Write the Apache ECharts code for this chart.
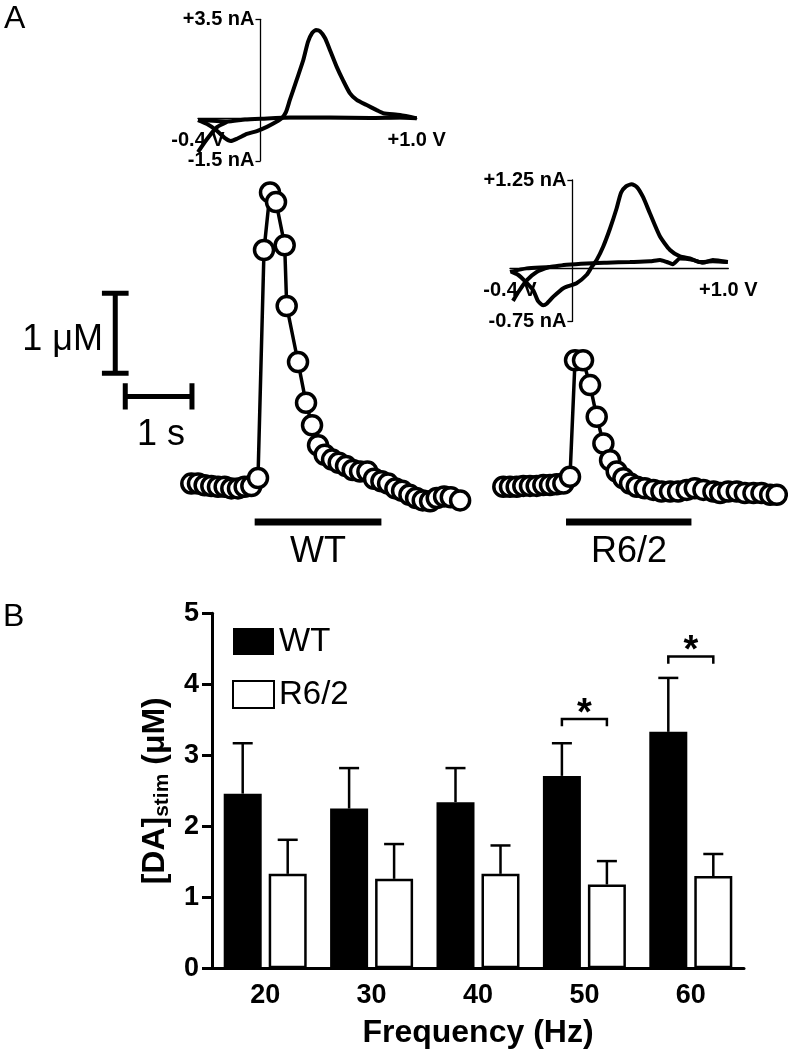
<!DOCTYPE html>
<html><head><meta charset="utf-8">
<script src="https://cdn.jsdelivr.net/npm/echarts/dist/echarts.min.js"></script>
<style>html,body{margin:0;padding:0;background:#fff}#c{width:788px;height:1050px}</style>
</head><body><div id="c"></div><script>
// ================= DATA =================
// Panel A: representative [DA] traces (time in s, concentration in µM)
const wtTime = [-1.0,-0.9,-0.8,-0.7,-0.6,-0.5,-0.4,-0.3,-0.2,-0.1,0,0.09,0.18,0.27,0.40,0.43,0.60,0.72,0.81,0.90,1.00,1.11,1.21,1.32,1.42,1.53,1.64,1.74,1.85,1.95,2.06,2.16,2.27,2.37,2.47,2.58,2.68,2.79,2.89,3.03];
const wtConc = [0.03,0.03,0.01,0.0,-0.01,-0.01,-0.03,-0.03,-0.01,0.0,0.10,2.95,3.67,3.55,3.01,2.25,1.55,1.04,0.76,0.51,0.39,0.33,0.29,0.25,0.20,0.18,0.18,0.09,0.06,0.03,-0.03,-0.06,-0.11,-0.15,-0.18,-0.19,-0.15,-0.13,-0.14,-0.18];
const r62Time = [-1.0,-0.9,-0.8,-0.7,-0.6,-0.5,-0.4,-0.3,-0.2,-0.1,0,0.075,0.195,0.30,0.40,0.50,0.60,0.70,0.80,0.90,1.00,1.12,1.25,1.37,1.50,1.62,1.75,1.87,2.00,2.15,2.25,2.37,2.50,2.62,2.75,2.87,3.00,3.10];
const r62Conc = [0,0,0,0.01,0.01,0.01,0.02,0.02,0.03,0.04,0.125,1.58,1.58,1.27,0.875,0.54,0.33,0.19,0.105,0.04,0.0,-0.02,-0.04,-0.06,-0.06,-0.06,-0.04,-0.02,-0.04,-0.06,-0.08,-0.06,-0.06,-0.08,-0.08,-0.08,-0.10,-0.10];
const stimWT = [-0.05, 1.85];       // stimulation period (s)
const stimR62 = [-0.06, 1.82];
const traceLabels = ['WT', 'R6/2'];
const scaleConc = 1;   // µM
const scaleTime = 1;   // s
const scaleLabels = ['1 \u03bcM', '1 s'];

// Cyclic voltammograms (potential V, current nA)
const wtCvFlat = [[-0.4,-0.06],[-0.214,-0.11],[-0.099,-0.04],[0.01,-0.01],[0.189,0.03],[0.445,0.03],[0.701,0.01],[0.893,0.03],[1.0,0]];
const wtCvLoop = [[1.0,0],[0.893,0.12],[0.786,0.18],[0.744,0.29],[0.68,0.47],[0.616,0.65],[0.573,0.88],[0.528,1.35],[0.488,1.82],[0.445,2.41],[0.413,2.84],[0.381,3.08],[0.355,3.12],[0.33,3.01],[0.304,2.7],[0.274,2.06],[0.231,1.35],[0.188,0.65],[0.163,0.22],[0.137,0.01],[0.099,-0.13],[0.041,-0.3],[-0.023,-0.45],[-0.087,-0.55],[-0.15,-0.72],[-0.19,-0.8],[-0.227,-0.7],[-0.285,-0.41],[-0.342,-0.2],[-0.4,-0.06]];
const wtCvTail = [[-0.4,-1.19],[-0.342,-0.73],[-0.278,-0.31],[-0.214,-0.13]];
const r62CvFlat = [[-0.4,-0.05],[-0.293,0.0],[-0.144,0.02],[-0.037,0.05],[0.092,0.07],[0.22,0.08],[0.369,0.09],[0.497,0.1],[0.562,0.12],[0.606,0.09],[0.644,0.06],[0.69,0.14],[0.773,0.12],[0.837,0.08],[0.901,0.12],[0.997,0.09]];
const r62CvLoop = [[0.997,0.09],[0.901,0.1],[0.818,0.09],[0.754,0.14],[0.69,0.17],[0.626,0.26],[0.562,0.45],[0.497,0.78],[0.453,1.01],[0.414,1.15],[0.38,1.19],[0.344,1.16],[0.312,1.07],[0.284,0.85],[0.241,0.56],[0.198,0.31],[0.156,0.12],[0.124,0.02],[0.092,-0.09],[0.027,-0.21],[-0.058,-0.28],[-0.122,-0.4],[-0.165,-0.5],[-0.188,-0.52],[-0.221,-0.46],[-0.251,-0.31],[-0.304,-0.18],[-0.349,-0.09],[-0.389,-0.05]];
const r62CvTail = [[-0.381,-0.46],[-0.342,-0.32],[-0.293,-0.17],[-0.229,-0.05],[-0.144,0.02]];
const wtCvYLabels = ['-1.5 nA', '+3.5 nA'];
const r62CvYLabels = ['-0.75 nA', '+1.25 nA'];
const cvXLabels = ['-0.4 V', '+1.0 V'];

// Panel B: [DA]stim by frequency
const frequencies = ['20', '30', '40', '50', '60'];
const wtMean  = [2.46, 2.25, 2.34, 2.71, 3.33];
const wtSem   = [0.71, 0.57, 0.48, 0.46, 0.76];
const r62Mean = [1.33, 1.26, 1.33, 1.18, 1.30];
const r62Sem  = [0.48, 0.49, 0.40, 0.33, 0.31];
const sigCats = [3, 4];
const sigBracketY = [3.51, 4.39];
const seriesNames = ['WT', 'R6/2'];
const panelLabels = ['A', 'B'];

// ================= CHART =================
const FONT = '"Liberation Sans", Arial, Helvetica, sans-serif';
const chart = echarts.init(document.getElementById('c'), null, {renderer: 'canvas'});

const BAR_W = 38, BAR_GAP_PX = 7;
const OFF = (BAR_W + BAR_GAP_PX) / 2;

// CV inset geometry
const cvGrids = [
  {left: 198, top: 19.3, width: 218.7, height: 141.5, xMin: -0.4, xMax: 1.0, yMin: -1.5, yMax: 3.5},
  {left: 510, top: 180, width: 218.3, height: 141.4, xMin: -0.4, xMax: 1.0, yMin: -0.75, yMax: 1.25}
];
function zeroOffX(g) { return -(0 - g.xMin) / (g.xMax - g.xMin) * g.width; }   // move y axis to V=0
function zeroOffY(g) { return -(0 - g.yMin) / (g.yMax - g.yMin) * g.height; }  // move x axis to I=0

function lineSeries(ax, data, width, extra) {
  return Object.assign({
    type: 'line', xAxisIndex: ax, yAxisIndex: ax, data: data,
    symbol: 'none', clip: false, silent: true, animation: false,
    lineStyle: {color: '#000', width: width}
  }, extra || {});
}
function zip(a, b) { return a.map((v, i) => [v, b[i]]); }

function cvXAxis(i) {
  const g = cvGrids[i];
  return {
    type: 'value', gridIndex: i, min: g.xMin, max: g.xMax, interval: g.xMax - g.xMin,
    position: 'bottom', offset: zeroOffY(g),
    axisLine: {onZero: false, lineStyle: {color: '#000', width: 1.3}},
    axisTick: {show: false}, splitLine: {show: false},
    axisLabel: {showMinLabel: true, showMaxLabel: true, margin: 12,
      color: '#000', fontFamily: FONT, fontSize: 20, fontWeight: 'bold',
      formatter: v => (v < 0 ? cvXLabels[0] : cvXLabels[1])}
  };
}
function cvYAxis(i, labels) {
  const g = cvGrids[i];
  return {
    type: 'value', gridIndex: i, min: g.yMin, max: g.yMax, interval: g.yMax - g.yMin,
    position: 'left', offset: zeroOffX(g),
    axisLine: {onZero: false, lineStyle: {color: '#000', width: 1.3}},
    axisTick: {show: true, length: 5, lineStyle: {color: '#000', width: 1.3}},
    splitLine: {show: false},
    axisLabel: {showMinLabel: true, showMaxLabel: true, margin: 6,
      color: '#000', fontFamily: FONT, fontSize: 20, fontWeight: 'bold',
      formatter: v => (v > 0 ? labels[1] : labels[0])}
  };
}
function hiddenAxis(g, min, max) {
  return {type: 'value', gridIndex: g, min: min, max: max, show: false};
}

// scale bars in WT-trace coordinates
const sbX = -2.14, sbY0 = 1.41, hbY = 1.12, hbX0 = -1.99;
const capHalfT = 0.2, capHalfC = 0.165;

const traceStyle = {
  symbol: 'circle', symbolSize: 19, showAllSymbol: true,
  itemStyle: {color: '#fff', borderColor: '#000', borderWidth: 3.5},
  lineStyle: {color: '#000', width: 3.5}
};

function errRender(offset) {
  return function (params, api) {
    const i = api.value(0), m = api.value(1), e = api.value(2);
    const p0 = api.coord([i, m]), p1 = api.coord([i, m + e]);
    const x = p0[0] + offset;
    return {type: 'group', children: [
      {type: 'line', shape: {x1: x, y1: p0[1], x2: x, y2: p1[1]}, style: {stroke: '#000', lineWidth: 2.5}},
      {type: 'line', shape: {x1: x - 10, y1: p1[1], x2: x + 10, y2: p1[1]}, style: {stroke: '#000', lineWidth: 2.5}}
    ]};
  };
}
function sigRender(params, api) {
  const i = api.value(0), y = api.value(1);
  const p = api.coord([i, y]), q = api.coord([i, y - 0.1]);
  const xl = p[0] - OFF, xr = p[0] + OFF;
  return {type: 'group', children: [
    {type: 'polyline', shape: {points: [[xl, q[1]], [xl, p[1]], [xr, p[1]], [xr, q[1]]]},
     style: {stroke: '#000', lineWidth: 2.5, fill: null}},
    {type: 'text', x: p[0], y: p[1] + 14,
     style: {text: '*', font: 'bold 38px ' + FONT, fill: '#000', align: 'center', verticalAlign: 'bottom'}}
  ]};
}

const option = {
  animation: false,
  backgroundColor: '#fff',
  grid: [
    {left: cvGrids[0].left, top: cvGrids[0].top, width: cvGrids[0].width, height: cvGrids[0].height, outerBoundsMode: 'none'},
    {left: cvGrids[1].left, top: cvGrids[1].top, width: cvGrids[1].width, height: cvGrids[1].height, outerBoundsMode: 'none'},
    {left: 91.25, top: 174, width: 380.2, height: 360, outerBoundsMode: 'none'},
    {left: 483.3, top: 326.7, width: 300.2, height: 208, outerBoundsMode: 'none'},
    {left: 212, top: 613.3, width: 532, height: 355, outerBoundsMode: 'none'}
  ],
  xAxis: [
    cvXAxis(0), cvXAxis(1),
    hiddenAxis(2, -2.5, 3.2), hiddenAxis(3, -1.3, 3.2),
    {type: 'category', gridIndex: 4, data: frequencies,
     axisLine: {lineStyle: {color: '#000', width: 3}}, axisTick: {show: false},
     axisLabel: {color: '#000', fontFamily: FONT, fontSize: 27, fontWeight: 'bold', margin: 14},
     name: 'Frequency (Hz)', nameLocation: 'middle', nameGap: 49,
     nameTextStyle: {color: '#000', fontFamily: FONT, fontSize: 32, fontWeight: 'bold'}}
  ],
  yAxis: [
    cvYAxis(0, wtCvYLabels), cvYAxis(1, r62CvYLabels),
    hiddenAxis(2, -0.6, 3.9), hiddenAxis(3, -0.6, 2.0),
    {type: 'value', gridIndex: 4, min: 0, max: 5, interval: 1,
     axisLine: {show: true, lineStyle: {color: '#000', width: 3}},
     axisTick: {show: true, length: 10, lineStyle: {color: '#000', width: 3}},
     splitLine: {show: false},
     axisLabel: {color: '#000', fontFamily: FONT, fontSize: 27, fontWeight: 'bold', margin: 13},
     name: '{m|[DA]}{s|stim}{m| (\u03bcM)}', nameLocation: 'middle', nameRotate: 90, nameGap: 38,
     nameTextStyle: {rich: {
       m: {fontFamily: FONT, fontSize: 32, fontWeight: 'bold', color: '#000', lineHeight: 36},
       s: {fontFamily: FONT, fontSize: 21, fontWeight: 'bold', color: '#000', lineHeight: 20, verticalAlign: 'bottom'}
     }}}
  ],
  legend: {
    data: seriesNames, orient: 'vertical', left: 232, top: 625, padding: 0,
    itemWidth: 41, itemHeight: 27, itemGap: 20, icon: 'rect',
    textStyle: {color: '#000', fontFamily: FONT, fontSize: 33, lineHeight: 28},
    selectedMode: false
  },
  graphic: [
    {type: 'text', x: 4, y: 3, style: {text: panelLabels[0], font: '32px ' + FONT, fill: '#000'}},
    {type: 'text', x: 3, y: 601, style: {text: panelLabels[1], font: '32px ' + FONT, fill: '#000'}},
    {type: 'text', x: 103, y: 340, style: {text: scaleLabels[0], font: '36px ' + FONT, fill: '#000', textAlign: 'right', textVerticalAlign: 'middle', align: 'right', verticalAlign: 'middle'}},
    {type: 'text', x: 161, y: 435, style: {text: scaleLabels[1], font: '36px ' + FONT, fill: '#000', textAlign: 'center', textVerticalAlign: 'middle', align: 'center', verticalAlign: 'middle'}},
    {type: 'text', x: 318, y: 552, style: {text: traceLabels[0], font: '36px ' + FONT, fill: '#000', textAlign: 'center', textVerticalAlign: 'middle', align: 'center', verticalAlign: 'middle'}},
    {type: 'text', x: 629, y: 552, style: {text: traceLabels[1], font: '36px ' + FONT, fill: '#000', textAlign: 'center', textVerticalAlign: 'middle', align: 'center', verticalAlign: 'middle'}}
  ],
  series: [
    // CV insets
    lineSeries(0, wtCvFlat, 4, {smooth: 0.2}),
    lineSeries(0, wtCvLoop, 4, {smooth: 0.2}),
    lineSeries(0, wtCvTail, 4, {smooth: 0.2}),
    lineSeries(1, r62CvFlat, 4, {smooth: 0.2}),
    lineSeries(1, r62CvLoop, 4, {smooth: 0.2}),
    lineSeries(1, r62CvTail, 4, {smooth: 0.2}),
    // stimulation bars
    lineSeries(2, [[stimWT[0], -0.45], [stimWT[1], -0.45]], 7),
    lineSeries(3, [[stimR62[0], -0.44], [stimR62[1], -0.44]], 7),
    // scale bars
    lineSeries(2, [[sbX, sbY0], [sbX, sbY0 + scaleConc]], 5),
    lineSeries(2, [[sbX - capHalfT, sbY0], [sbX + capHalfT, sbY0]], 5),
    lineSeries(2, [[sbX - capHalfT, sbY0 + scaleConc], [sbX + capHalfT, sbY0 + scaleConc]], 5),
    lineSeries(2, [[hbX0, hbY], [hbX0 + scaleTime, hbY]], 5),
    lineSeries(2, [[hbX0, hbY - capHalfC], [hbX0, hbY + capHalfC]], 5),
    lineSeries(2, [[hbX0 + scaleTime, hbY - capHalfC], [hbX0 + scaleTime, hbY + capHalfC]], 5),
    // traces
    Object.assign(lineSeries(2, zip(wtTime, wtConc), 3.5), traceStyle),
    Object.assign(lineSeries(3, zip(r62Time, r62Conc), 3.5), traceStyle),
    // bars
    {type: 'bar', name: seriesNames[0], xAxisIndex: 4, yAxisIndex: 4, data: wtMean,
     barWidth: BAR_W, barGap: (BAR_GAP_PX / BAR_W * 100).toFixed(1) + '%',
     itemStyle: {color: '#000', borderColor: '#000', borderWidth: 0}},
    {type: 'bar', name: seriesNames[1], xAxisIndex: 4, yAxisIndex: 4, data: r62Mean,
     barWidth: BAR_W, barGap: (BAR_GAP_PX / BAR_W * 100).toFixed(1) + '%',
     itemStyle: {color: '#fff', borderColor: '#000', borderWidth: 2.5}},
    {type: 'custom', xAxisIndex: 4, yAxisIndex: 4, renderItem: errRender(-OFF), z: 5,
     data: wtMean.map((m, i) => [i, m, wtSem[i]]), silent: true},
    {type: 'custom', xAxisIndex: 4, yAxisIndex: 4, renderItem: errRender(OFF), z: 5,
     data: r62Mean.map((m, i) => [i, m, r62Sem[i]]), silent: true},
    {type: 'custom', xAxisIndex: 4, yAxisIndex: 4, renderItem: sigRender, z: 5,
     data: sigCats.map((c, k) => [c, sigBracketY[k]]), silent: true}
  ]
};
chart.setOption(option);
</script></body></html>
